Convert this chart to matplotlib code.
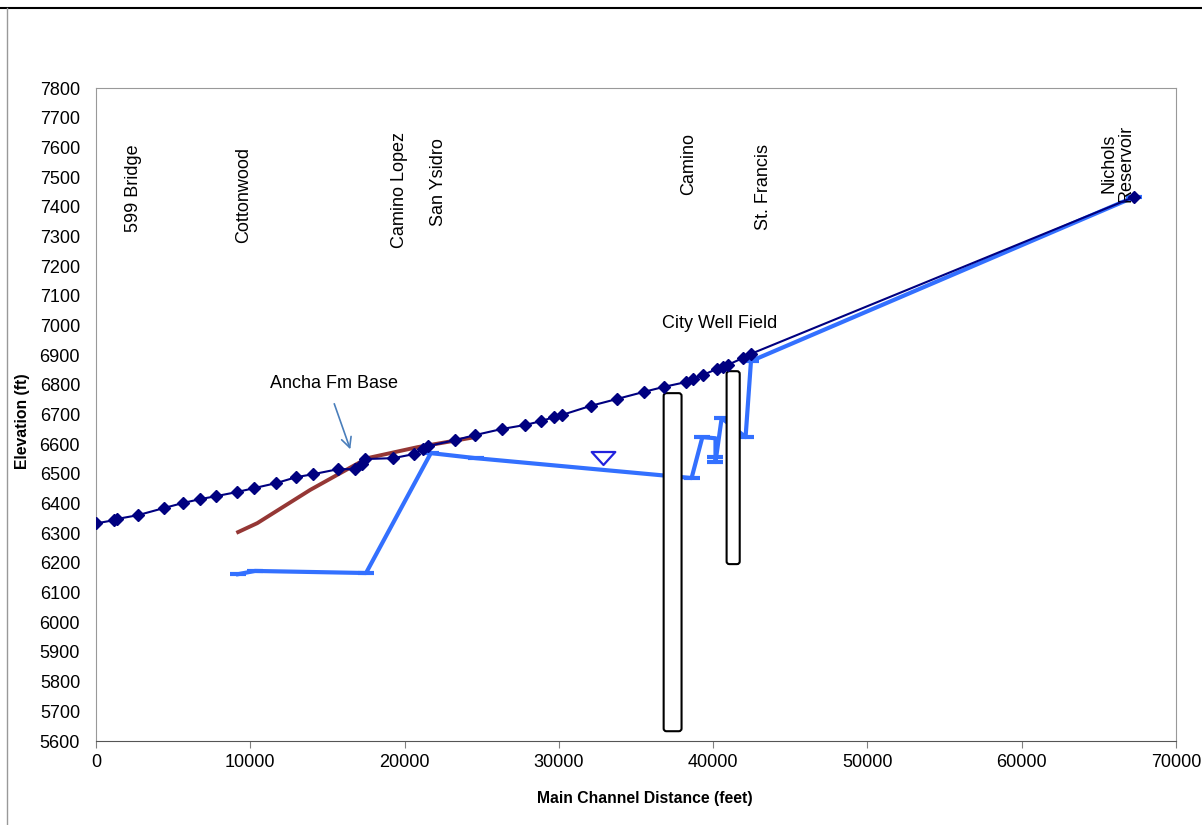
import matplotlib.pyplot as plt
from matplotlib.patches import FancyBboxPatch
from matplotlib.lines import Line2D
from matplotlib.path import Path

plt.rcParams['font.family'] = ['Liberation Sans', 'DejaVu Sans']

# channel profile (thalweg)
chan_x = [0, 1150, 1350, 2725, 4410, 5640, 6750, 7790, 9150, 10250, 11680, 12980,
          14080, 15700, 16800, 17260, 17450, 19270, 20630, 21210, 21540, 23290,
          24590, 26280, 27830, 28870, 29710, 30170, 32050, 33740, 35490, 36790,
          38210, 38670, 39320, 40220, 40610, 40940, 41910, 42430, 67280]
chan_y = [6333, 6344, 6348, 6361, 6385, 6402, 6415, 6425, 6439, 6452, 6469, 6489,
          6499, 6516, 6516, 6533, 6550, 6553, 6567, 6584, 6594, 6614,
          6631, 6651, 6665, 6678, 6692, 6698, 6729, 6752, 6776, 6793,
          6809, 6820, 6833, 6853, 6860, 6867, 6890, 6904, 7433]

# Ancha formation base
ancha_x = [9210, 10450, 13880, 17580, 20830, 24590]
ancha_y = [6304, 6334, 6446, 6553, 6590, 6624]

# water surface / groundwater
wl_x = [9200, 10300, 17500, 21700, 24600, 38600, 39300, 40150, 40150, 40150, 40550, 42100, 42450, 67300]
wl_y = [6162, 6173, 6166, 6570, 6553, 6486, 6624, 6620, 6557, 6540, 6688, 6624, 6880, 7433]
wl_marks = [0, 1, 2, 3, 4, 5, 6, 8, 9, 10, 11, 12, 13]

# well field bars (x0, x1, bottom, top)
wells = [(36790, 37950, 5633, 6772), (40870, 41720, 6196, 6846)]

sites = ['599 Bridge', 'Cottonwood', 'Camino Lopez', 'San Ysidro', 'Camino',
         'St. Francis', 'Nichols\nReservoir']
site_x = [2400, 9540, 19660, 22190, 38400, 43270, 66200]
site_y = [7463, 7439, 7456, 7483, 7544, 7466, 7545]

fig = plt.figure(figsize=(12.02, 8.25), dpi=100)
ax = fig.add_axes([0.0799, 0.1018, 0.8985, 0.7915])

ax.plot(wl_x, wl_y, color='#3370FF', lw=3, marker='_', ms=11, mew=3,
        markevery=wl_marks, zorder=2)
for x0, x1, y0, y1 in wells:
    ax.add_patch(FancyBboxPatch((x0, y0), x1 - x0, y1 - y0,
                                boxstyle='round,pad=0,rounding_size=180',
                                mutation_aspect=0.052, fc='white', ec='black',
                                lw=1.5, zorder=3))
ax.plot(ancha_x, ancha_y, color='#953735', lw=2.8, zorder=4)
ax.plot(chan_x, chan_y, color='#000080', lw=1.5, marker='D', ms=6, zorder=5)

tri = Path([(-1, 0.55), (1, 0.55), (0, -0.55), (-1, 0.55)],
           [Path.MOVETO, Path.LINETO, Path.LINETO, Path.CLOSEPOLY])
ax.plot([32890], [6552], ls='none', marker=tri, ms=17, mfc='white',
        mec='#2222DD', mew=1.6, zorder=5)

for s, x, y in zip(sites, site_x, site_y):
    ax.text(x, y, s, rotation=90, ha='center', va='center', fontsize=13,
            linespacing=1.0)

ax.text(11300, 6803, 'Ancha Fm Base', fontsize=13, va='center')
ax.annotate('', xy=(16540, 6574), xytext=(15380, 6745),
            arrowprops=dict(arrowstyle='->', color='#4A7EBB', lw=1.2,
                            mutation_scale=18))
ax.text(40400, 7005, 'City Well Field', fontsize=13, ha='center', va='center')

ax.set_xlim(0, 70000)
ax.set_ylim(5600, 7800)
ax.set_xticks(range(0, 70001, 10000))
ax.set_yticks(range(5600, 7801, 100))
ax.tick_params(axis='x', length=5, color='#808080', labelsize=13, pad=4)
ax.tick_params(axis='y', length=0, labelsize=13, pad=11.5)
for side in ['left', 'top', 'right']:
    ax.spines[side].set_color('#999999')
ax.spines['bottom'].set_color('#555555')

ax.set_xlabel('Main Channel Distance (feet)', fontsize=11.3, fontweight='bold')
ax.set_ylabel('Elevation (ft)', fontsize=11.3, fontweight='bold')
ax.xaxis.set_label_coords(0.508, -0.076)
ax.yaxis.set_label_coords(-0.061, 0.49)

# outer frame of the original picture
fig.add_artist(Line2D([0, 1], [1 - 8 / 825, 1 - 8 / 825], color='black', lw=1.5))
fig.add_artist(Line2D([7 / 1202, 7 / 1202], [0, 1 - 8 / 825], color='#999999', lw=1))

fig.savefig('out.png')
